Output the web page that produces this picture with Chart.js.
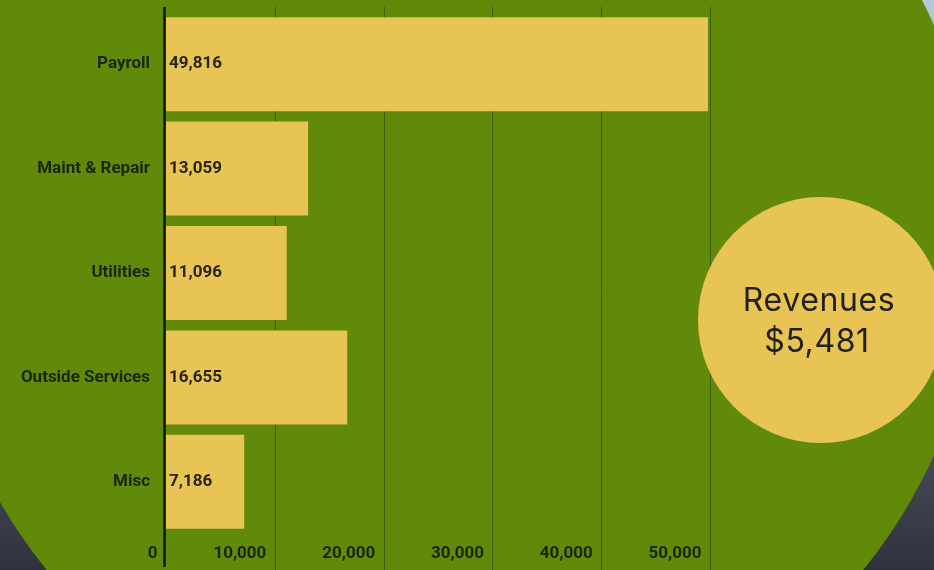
<!DOCTYPE html>
<html>
<head>
<meta charset="utf-8">
<script src="https://cdn.jsdelivr.net/npm/chart.js@4.4.1/dist/chart.umd.min.js"></script>
<style>
    html, body { margin: 0; padding: 0; }
    body {
        width: 934px; height: 570px; overflow: hidden; position: relative;
        background: linear-gradient(to bottom, #b3cbd9 0%, #7d8c98 45%, #454a56 80%, #2e323d 100%);
    }
    #disc {
        position: absolute; left: -70px; top: -285px;
        width: 1050px; height: 1050px; border-radius: 50%;
        background: #618a0b;
    }
    #chart { position: absolute; left: 0; top: 0; }
</style>
</head>
<body>
<div id="disc"></div>
<canvas id="chart" width="934" height="570"></canvas>
<script>
// Expense categories and amounts
const categories = ['Payroll', 'Maint & Repair', 'Utilities', 'Outside Services', 'Misc'];
const amounts = [49816, 13059, 11096, 16655, 7186];
const xTicks = [0, 10000, 20000, 30000, 40000, 50000];
const revenueLines = ['Revenues', '$5,481'];

const barColor = '#e7c453';
const gridColor = '#3f5f07';
const textColor = '#1b2608';

// grid lines + axis line that run past the plot area like the original
const backdrop = {
    id: 'backdrop',
    beforeDatasetsDraw(chart) {
        const { ctx, scales: { x } } = chart;
        ctx.save();
        ctx.strokeStyle = gridColor;
        ctx.lineWidth = 1;
        xTicks.slice(1).forEach(v => {
            const px = Math.round(x.getPixelForValue(v)) + 0.5;
            ctx.beginPath();
            ctx.moveTo(px, 7);
            ctx.lineTo(px, 570);
            ctx.stroke();
        });
        const ax = x.getPixelForValue(0) - 1.5;
        ctx.strokeStyle = '#10160a';
        ctx.lineWidth = 2.5;
        ctx.beginPath();
        ctx.moveTo(ax, 7);
        ctx.lineTo(ax, 567);
        ctx.stroke();
        ctx.restore();
    }
};

// value labels at the base of each bar
const valueLabels = {
    id: 'valueLabels',
    afterDatasetsDraw(chart) {
        const { ctx } = chart;
        const meta = chart.getDatasetMeta(0);
        ctx.save();
        ctx.font = 'bold 17px Roboto';
        ctx.fillStyle = '#2b2410';
        ctx.textAlign = 'left';
        ctx.textBaseline = 'middle';
        meta.data.forEach((bar, i) => {
            ctx.fillText(amounts[i].toLocaleString('en-US'), bar.base + 3, bar.y);
        });
        ctx.restore();
    }
};

// revenue bubble on the right
const revenueBubble = {
    id: 'revenueBubble',
    afterDraw(chart) {
        const { ctx } = chart;
        ctx.save();
        ctx.fillStyle = barColor;
        ctx.beginPath();
        ctx.arc(821, 320, 123, 0, Math.PI * 2);
        ctx.fill();
        ctx.fillStyle = '#222018';
        ctx.font = '32px Inter';
        ctx.letterSpacing = '0.6px';
        ctx.textAlign = 'center';
        ctx.textBaseline = 'middle';
        ctx.fillText(revenueLines[0], 819, 301);
        ctx.fillText(revenueLines[1], 817, 342);
        ctx.restore();
    }
};

new Chart(document.getElementById('chart'), {
    type: 'bar',
    data: {
        labels: categories,
        datasets: [{
            data: amounts,
            backgroundColor: barColor,
            borderWidth: 0,
            categoryPercentage: 1,
            barPercentage: 0.9
        }]
    },
    options: {
        indexAxis: 'y',
        responsive: false,
        animation: false,
        devicePixelRatio: 1,
        layout: { padding: { top: 12, right: 224, left: 0, bottom: 0 } },
        plugins: {
            legend: { display: false },
            tooltip: { enabled: false }
        },
        scales: {
            x: {
                min: 0,
                max: 50000,
                afterBuildTicks: axis => { axis.ticks = xTicks.map(v => ({ value: v })); },
                afterFit: axis => {
                    axis.height = 36;
                    axis.paddingLeft = 0;
                    axis.paddingRight = 0;
                },
                grid: { display: false, drawTicks: false },
                border: { display: false },
                ticks: {
                    align: 'end',
                    padding: 10,
                    maxRotation: 0,
                    autoSkip: false,
                    color: textColor,
                    font: { family: 'Roboto', size: 17, weight: 'bold' },
                    callback: v => v.toLocaleString('en-US') + '  '
                }
            },
            y: {
                afterFit: axis => {
                    axis.width = 166;
                    axis.paddingTop = 0;
                    axis.paddingBottom = 0;
                },
                grid: { display: false, drawTicks: false },
                border: { display: false },
                ticks: {
                    padding: 16,
                    color: textColor,
                    font: { family: 'Roboto', size: 17, weight: 'bold' }
                }
            }
        }
    },
    plugins: [backdrop, valueLabels, revenueBubble]
});
</script>
</body>
</html>
